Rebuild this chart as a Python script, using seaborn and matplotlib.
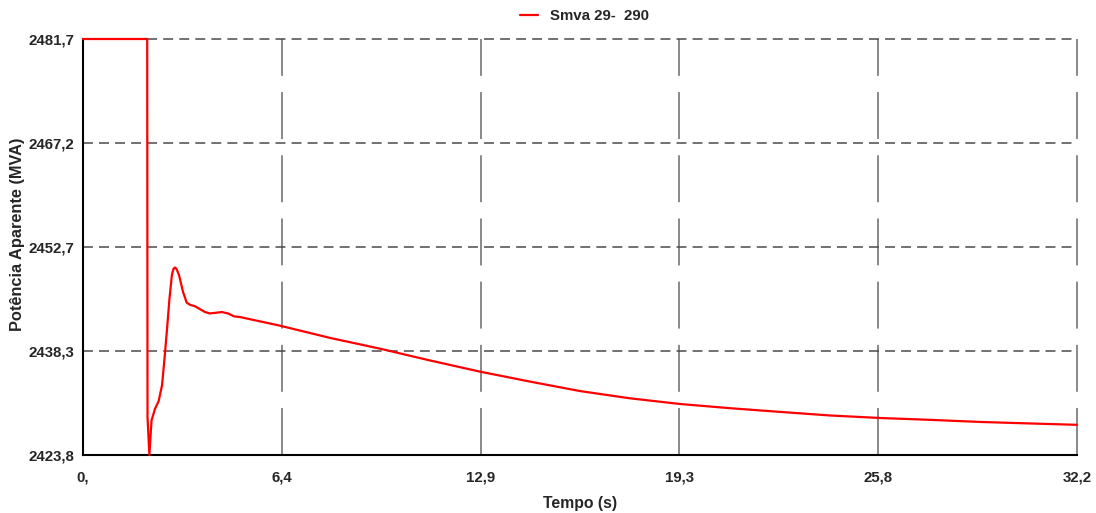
import pandas as pd
import seaborn as sns
import matplotlib.pyplot as plt

# apparent power at bus 29-290
tempo = [0.0, 2.08, 2.09, 2.15, 2.22, 2.33, 2.45, 2.56, 2.64, 2.72, 2.80, 2.88, 2.93,
         2.98, 3.03, 3.11, 3.24, 3.36, 3.47, 3.63, 3.79, 3.95, 4.11, 4.31, 4.50,
         4.70, 4.89, 5.09, 5.41, 6.38, 8.0, 9.62, 11.2, 12.86, 14.5, 16.1, 17.7,
         19.34, 21.0, 22.58, 24.2, 25.82, 27.4, 29.06, 30.6, 32.2]
smva = [2481.7, 2481.7, 2429.1, 2423.8, 2428.6, 2430.2, 2431.3, 2433.5, 2437.2,
        2441.2, 2445.5, 2448.85, 2449.7, 2449.9, 2449.7, 2448.85, 2446.5, 2445.0,
        2444.7, 2444.5, 2444.1, 2443.7, 2443.5, 2443.6, 2443.7, 2443.5, 2443.1,
        2443.0, 2442.7, 2441.8, 2440.1, 2438.6, 2437.0, 2435.4, 2434.0, 2432.7,
        2431.7, 2430.9, 2430.3, 2429.8, 2429.3, 2428.95, 2428.7, 2428.4, 2428.2,
        2428.0]

x_ticks = [0.0, 6.44, 12.88, 19.32, 25.76, 32.2]
x_labels = ["0,", "6,4", "12,9", "19,3", "25,8", "32,2"]
y_ticks = [2423.8, 2438.275, 2452.75, 2467.225, 2481.7]
y_labels = ["2423,8", "2438,3", "2452,7", "2467,2", "2481,7"]

df = pd.DataFrame({"tempo": tempo, "smva": smva})

sns.set_style("white")
plt.rcParams["font.family"] = ["Liberation Sans", "DejaVu Sans"]
plt.rcParams["font.weight"] = "bold"

fig = plt.figure(figsize=(10.96, 5.13), dpi=100)
ax = fig.add_axes([83 / 1096, 58 / 513, 994 / 1096, 416 / 513])

sns.lineplot(data=df, x="tempo", y="smva", estimator=None, sort=False,
             color="#ff0000", linewidth=1.6, label="Smva 29-  290", ax=ax,
             clip_on=False, zorder=5)

ax.set_xlim(x_ticks[0], x_ticks[-1])
ax.set_ylim(y_ticks[0], y_ticks[-1])
ax.set_xticks(x_ticks)
ax.set_xticklabels(x_labels, fontsize=10.8, fontweight="bold")
ax.set_yticks(y_ticks)
ax.set_yticklabels(y_labels, fontsize=10.8, fontweight="bold")
ax.tick_params(axis="both", direction="inout", length=8, width=1.2, color="black")
ax.tick_params(axis="y", pad=2)
ax.tick_params(axis="x", pad=7)

# dashed grid: grey long dashes vertical, short dark dashes horizontal
ax.xaxis.grid(True, color="#7f7f7f", linewidth=1.3, linestyle=(0, (26, 9)))
ax.yaxis.grid(True, color="#4a4a4a", linewidth=1.1, linestyle=(0, (6.5, 4)))
for gl in ax.get_xgridlines() + ax.get_ygridlines():
    gl.set_clip_on(False)

for side in ["top", "right"]:
    ax.spines[side].set_visible(False)
for side in ["left", "bottom"]:
    ax.spines[side].set_color("black")
    ax.spines[side].set_linewidth(1.5)

ax.set_xlabel("Tempo (s)", fontsize=11.3, fontweight="bold")
ax.xaxis.set_label_coords(0.5, -(496 - 455) / 416)
ax.set_ylabel("Potência Aparente (MVA)", fontsize=11.8, fontweight="bold")
ax.yaxis.set_label_coords((25 - 83) / 994, (455 - 234) / 416)

ax.legend(loc="center", bbox_to_anchor=(585 / 1096, 1 - 16 / 513),
          bbox_transform=fig.transFigure, frameon=False, handlelength=1.2,
          prop={"weight": "bold", "size": 10.8})

fig.savefig("out.png", dpi=100)
